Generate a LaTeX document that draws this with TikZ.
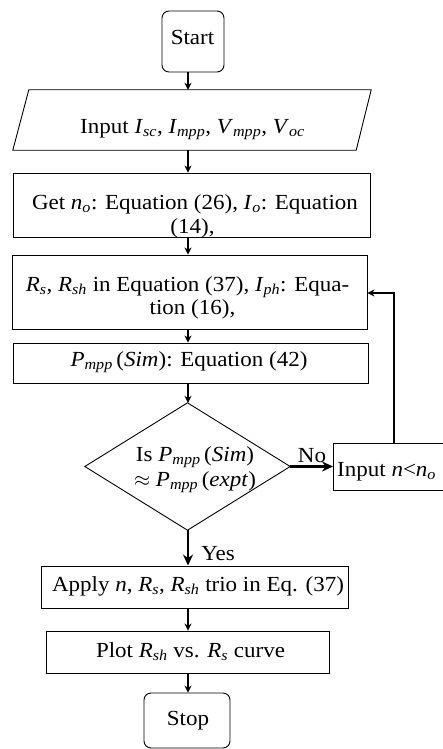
\documentclass[tikz,border=0pt]{standalone}
\usepackage{fontspec}
\setmainfont[FakeStretch=1.07]{Liberation Serif}
\usetikzlibrary{arrows.meta,calc}
\newcommand{\vsub}[2]{\textit{#1}\textsubscript{\textit{#2}}}
\begin{document}
\begin{tikzpicture}[x=1pt,y=-1pt,
  box/.style={draw, line width=0.9pt, inner sep=0pt},
  term/.style={box, rounded corners=7pt},
  ghost/.style={inner sep=0pt},
  arr/.style={-{Stealth[length=7pt,width=7pt]}, line width=1.3pt},
  bigarr/.style={-{Stealth[length=11pt,width=10pt]}, line width=2.4pt},
  txt/.style={font=\fontsize{21.5}{24}\selectfont, inner sep=0pt, anchor=base}]
\useasboundingbox (0,0) rectangle (443,749);
\clip (0,0) rectangle (443,749);
\coordinate (ax) at (188,0);
\coordinate (lp) at (394,293);

% shapes
\node[term, minimum width=62pt, minimum height=61pt] (start) at (193,41.5) {};
\node[ghost, minimum width=342pt, minimum height=60pt] (inp) at (192,120) {};
\draw[line width=0.9pt] ($(inp.south west)+(-8,0)$) -- ($(inp.north west)+(8,0)$)
  -- ($(inp.north east)+(8,0)$) -- ($(inp.south east)+(-7,0)$) -- cycle;
\node[box, minimum width=357pt, minimum height=64pt] (get) at (191.5,205) {};
\node[box, minimum width=355pt, minimum height=74pt] (rs) at (189.5,292) {};
\node[box, minimum width=355pt, minimum height=40pt] (pm) at (190.5,363) {};
\node[ghost, minimum width=205pt, minimum height=127pt] (dec) at (187.5,466.5) {};
\draw[line width=0.9pt] (dec.north) -- (dec.east) -- (dec.south) -- (dec.west) -- cycle;
\node[box, minimum width=150pt, minimum height=47pt, anchor=west] (inn) at (333,466.5) {};
\node[box, minimum width=307pt, minimum height=42pt] (app) at (194.5,587) {};
\node[box, minimum width=283pt, minimum height=42pt] (plot) at (187.5,652) {};
\node[term, minimum width=86pt, minimum height=55pt] (stop) at (187,720.5) {};

% texts
\node[txt] (tstart) at (192.5,45) {Start};
\node[txt] (tinp) at (192.5,133) {Input \vsub{I}{sc}, \vsub{I}{mpp}, \vsub{V}{mpp}, \vsub{V}{oc}};
\node[txt] (tget1) at (195,209) {Get \vsub{n}{o}: Equation (26), \vsub{I}{o}: Equation};
\node[txt] (tget2) at (192.5,233) {(14),};
\node[txt] (trs1) at (187.5,291) {\vsub{R}{s}, \vsub{R}{sh} in Equation (37), \vsub{I}{ph}: Equa-};
\node[txt] (trs2) at (192.5,314) {tion (16),};
\node[txt] (tpm) at (189,366) {\vsub{P}{mpp}\,(\textit{Sim}): Equation (42)};
\node[txt] (tdec1) at (195,461) {Is \vsub{P}{mpp}\,(\textit{Sim})};
\node[txt] (tdec2) at (195,486) {$\approx$ \vsub{P}{mpp}\,(\textit{expt})};
\node[txt, anchor=base west] (tinn) at (337,476) {Input \textit{n}<\vsub{n}{o}};
\node[txt] (tno) at (312,462) {No};
\node[txt] (tyes) at (218,560) {Yes};
\node[txt] (tapp) at (198,591) {Apply \textit{n}, \vsub{R}{s}, \vsub{R}{sh} trio in Eq. (37)};
\node[txt] (tplot) at (190.5,657) {Plot \vsub{R}{sh} vs. \vsub{R}{s} curve};
\node[txt] (tstop) at (188,725) {Stop};

% connectors
\draw[arr] (start.south -| ax) -- (inp.north -| ax);
\draw[arr] (inp.south -| ax) -- (get.north -| ax);
\draw[arr] (get.south -| ax) -- (rs.north -| ax);
\draw[arr] (rs.south -| ax) -- (pm.north -| ax);
\draw[arr] (pm.south -| ax) -- (dec.north -| ax);
\draw[bigarr] (dec.east) -- (inn.west);
\draw[bigarr] (dec.south -| ax) -- (app.north -| ax);
\draw[arr] (app.south -| ax) -- (plot.north -| ax);
\draw[arr] (plot.south -| ax) -- (stop.north -| ax);
\draw[arr] (inn.north -| lp) -- (lp) -- (rs.east |- lp);
\end{tikzpicture}
\end{document}
